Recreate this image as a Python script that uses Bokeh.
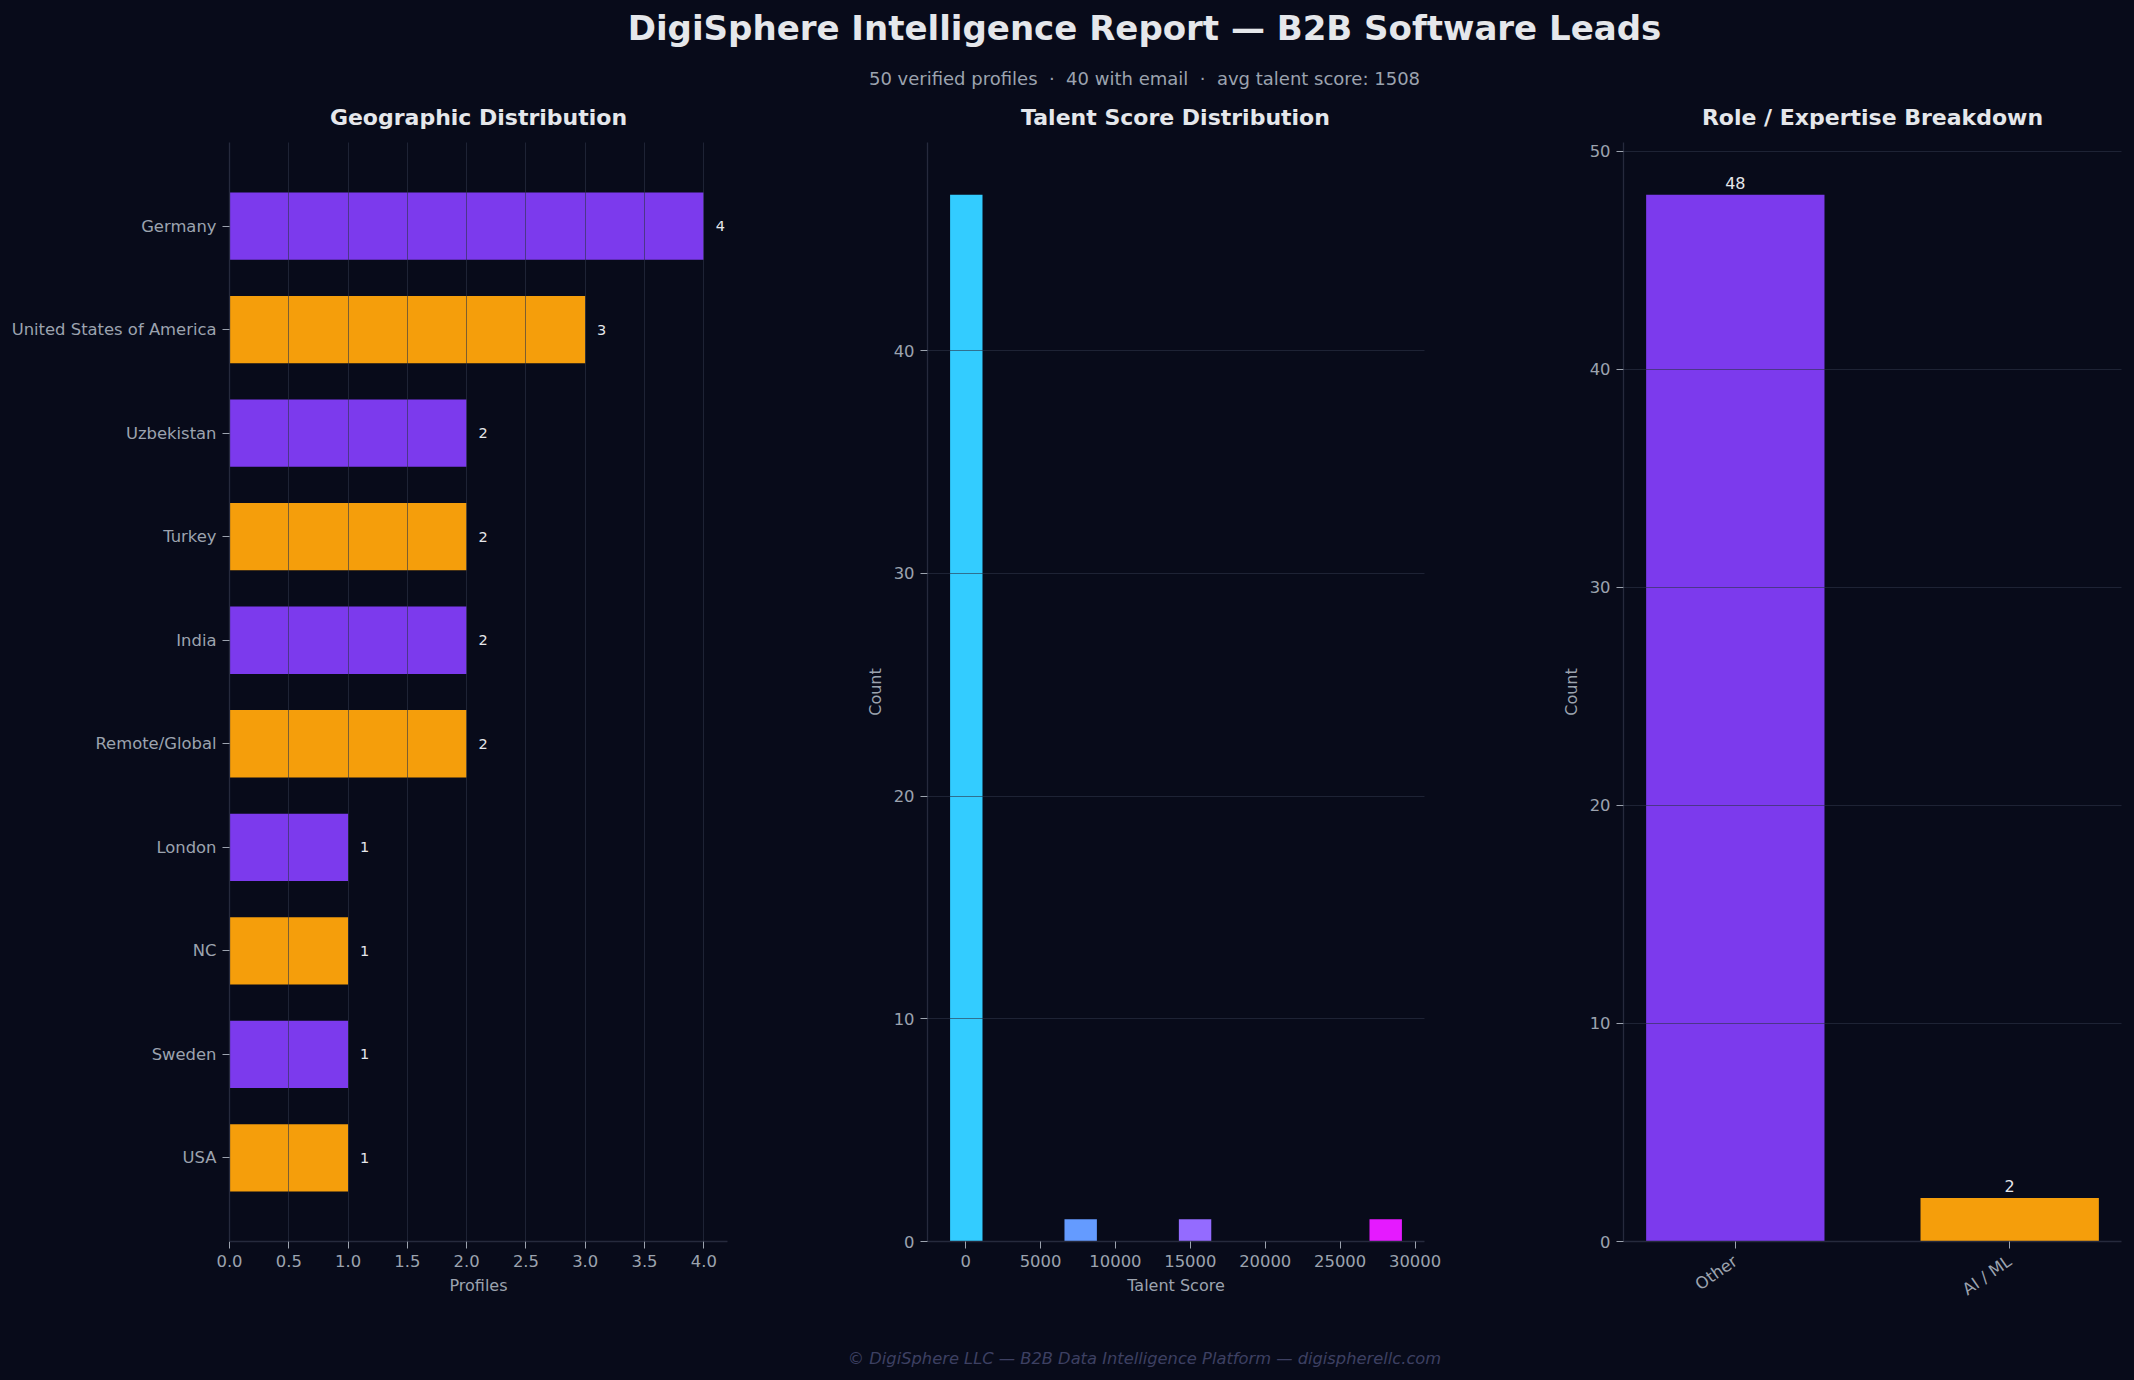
import numpy as np
from bokeh.plotting import figure
from bokeh.layouts import column, row
from bokeh.models import Range1d, FixedTicker, PrintfTickFormatter
from bokeh.core.properties import value
from bokeh.embed import file_html
from bokeh.resources import INLINE

# ---------------- data ----------------
title_text = "DigiSphere Intelligence Report — B2B Software Leads"
subtitle_text = "50 verified profiles \u00a0·\u00a0 40 with email \u00a0·\u00a0 avg talent score: 1508"
footer_text = "© DigiSphere LLC — B2B Data Intelligence Platform — digispherellc.com"
panel_titles = ["Geographic Distribution", "Talent Score Distribution", "Role / Expertise Breakdown"]

countries = ["Germany", "United States of America", "Uzbekistan", "Turkey", "India",
             "Remote/Global", "London", "NC", "Sweden", "USA"]
country_counts = [4, 3, 2, 2, 2, 2, 1, 1, 1, 1]

score_bin_starts = [46, 2591, 5136, 7681, 10226, 12771, 15316, 17861, 20406, 22951, 25496, 28041]
score_counts = [47, 0, 0, 1, 0, 0, 1, 0, 0, 0, 0, 1]

roles = ["Other", "AI / ML"]
role_counts = [48, 2]

x_ticks_profiles = [0, 0.5, 1.0, 1.5, 2.0, 2.5, 3.0, 3.5, 4.0]
x_ticks_score = [0, 5000, 10000, 15000, 20000, 25000, 30000]
y_ticks_score = [0, 10, 20, 30, 40]
y_ticks_roles = [0, 10, 20, 30, 40, 50]

# ---------------- style ----------------
BG = "#080b1a"
PURPLE = "#7c3aed"
ORANGE = "#f59e0b"
TICK = "#9ca3af"
SPINE = "#262a3d"
GRID = "#2d3348"
TEXT = "#e5e7eb"
FOOT = "#3d4062"
FONT = "DejaVu Sans"
FRAME_H = 1099
CX = 1144  # horizontal centre of the header/footer texts


def style(p):
    p.background_fill_color = None
    p.border_fill_color = None
    p.outline_line_color = None
    for ax in p.axis:
        ax.axis_line_color = SPINE
        ax.axis_line_width = 1.3
        ax.major_tick_line_color = TICK
        ax.major_tick_out = 7
        ax.major_tick_in = 0
        ax.minor_tick_line_color = None
        ax.major_label_text_color = TICK
        ax.major_label_text_font = FONT
        ax.major_label_text_font_size = "16.4px"
        ax.major_label_standoff = 6
        ax.axis_label_text_color = TICK
        ax.axis_label_text_font = FONT
        ax.axis_label_text_font_size = "16px"
        ax.axis_label_text_font_style = "normal"
        ax.axis_label_standoff = 6
    for g in p.grid:
        g.grid_line_color = GRID
        g.grid_line_alpha = 0.6
        g.level = "overlay"


# ---------------- panel 1: geography ----------------
n = len(countries)
idx = list(range(n))
bar_h = 0.65
pad1 = 0.05 * ((n - 1 + bar_h / 2) - (-bar_h / 2))
f1 = figure(frame_width=498, frame_height=FRAME_H,
            min_border_left=229, min_border_right=73, min_border_top=12, min_border_bottom=79,
            x_range=Range1d(0, max(country_counts) * 1.05),
            y_range=Range1d(n - 1 + bar_h / 2 + pad1, -bar_h / 2 - pad1),
            output_backend="svg", toolbar_location=None)
colors1 = [PURPLE if i % 2 == 0 else ORANGE for i in idx]
f1.hbar(y=idx, left=0, right=country_counts, height=bar_h, fill_color=colors1, line_color=None)
f1.text(x=[c + 0.1 for c in country_counts], y=idx, text=[str(c) for c in country_counts],
        text_font=value(FONT), text_font_size=value("14.5px"), text_color=TEXT,
        text_align="left", text_baseline="middle")
f1.xaxis.axis_label = "Profiles"
f1.xaxis.ticker = FixedTicker(ticks=x_ticks_profiles)
f1.xaxis.formatter = PrintfTickFormatter(format="%.1f")
f1.yaxis.ticker = FixedTicker(ticks=idx)
f1.yaxis.major_label_overrides = {i: c for i, c in zip(idx, countries)}
f1.xgrid.ticker = FixedTicker(ticks=x_ticks_profiles)
f1.ygrid.visible = False
style(f1)

# ---------------- panel 2: talent score histogram ----------------
bw = score_bin_starts[1] - score_bin_starts[0]
bar_w = 0.85 * bw
lo = score_bin_starts[0] - bar_w / 2
hi = score_bin_starts[-1] + bar_w / 2
m2 = 0.05 * (hi - lo)
nb = len(score_bin_starts)
cool = []
for k in range(nb):
    t = 0.2 + 0.7 * k / (nb - 1)
    cool.append("#%02x%02x%02x" % (int(round(t * 255)), int(round((1 - t) * 255)), 255))
f2 = figure(frame_width=497, frame_height=FRAME_H,
            min_border_left=127, min_border_right=76, min_border_top=12, min_border_bottom=79,
            x_range=Range1d(lo - m2, hi + m2), y_range=Range1d(0, max(score_counts) * 1.05),
            output_backend="svg", toolbar_location=None)
f2.vbar(x=score_bin_starts, top=score_counts, bottom=0, width=bar_w, fill_color=cool, line_color=None)
f2.xaxis.axis_label = "Talent Score"
f2.yaxis.axis_label = "Count"
f2.xaxis.ticker = FixedTicker(ticks=x_ticks_score)
f2.xaxis.formatter = PrintfTickFormatter(format="%d")
f2.yaxis.ticker = FixedTicker(ticks=y_ticks_score)
f2.ygrid.ticker = FixedTicker(ticks=y_ticks_score)
f2.xgrid.visible = False
style(f2)

# ---------------- panel 3: roles ----------------
ridx = list(range(len(roles)))
rw = 0.65
m3 = 0.05 * ((len(roles) - 1 + rw / 2) - (-rw / 2))
f3 = figure(frame_width=498, frame_height=FRAME_H,
            min_border_left=123, min_border_right=13, min_border_top=12, min_border_bottom=79,
            x_range=Range1d(-rw / 2 - m3, len(roles) - 1 + rw / 2 + m3),
            y_range=Range1d(0, max(role_counts) * 1.05),
            output_backend="svg", toolbar_location=None)
colors3 = [PURPLE if i % 2 == 0 else ORANGE for i in ridx]
f3.vbar(x=ridx, top=role_counts, bottom=0, width=rw, fill_color=colors3, line_color=None)
f3.text(x=ridx, y=[c + 0.25 for c in role_counts], text=[str(c) for c in role_counts],
        text_font=value(FONT), text_font_size=value("16px"), text_color=TEXT,
        text_align="center", text_baseline="bottom")
f3.yaxis.axis_label = "Count"
f3.xaxis.ticker = FixedTicker(ticks=ridx)
f3.xaxis.major_label_overrides = {i: r for i, r in zip(ridx, roles)}
f3.xaxis.major_label_orientation = np.deg2rad(35)
f3.yaxis.ticker = FixedTicker(ticks=y_ticks_roles)
f3.ygrid.ticker = FixedTicker(ticks=y_ticks_roles)
f3.xgrid.visible = False
style(f3)
f3.xaxis.major_label_standoff = 11


# ---------------- header / footer ----------------
def blank(h):
    p = figure(width=2134, height=h, x_range=Range1d(0, 2134), y_range=Range1d(h, 0),
               min_border=0, output_backend="svg", toolbar_location=None)
    p.axis.visible = False
    p.grid.visible = False
    p.outline_line_color = None
    p.background_fill_color = None
    p.border_fill_color = None
    return p


header = blank(130)
header.text(x=[CX], y=[27], text=[title_text], text_font=value(FONT),
            text_font_size=value("34px"), text_font_style="bold", text_color=TEXT,
            text_align="center", text_baseline="middle")
header.text(x=[CX], y=[78], text=[subtitle_text], text_font=value(FONT),
            text_font_size=value("18px"), text_color=TICK,
            text_align="center", text_baseline="middle")
header.text(x=[478, 1175, 1872], y=[117, 117, 117], text=panel_titles, text_font=value(FONT),
            text_font_size=value("22px"), text_font_style="bold", text_color=TEXT,
            text_align="center", text_baseline="middle")

footer = blank(60)
footer.text(x=[CX], y=[38], text=[footer_text], text_font=value(FONT),
            text_font_size=value("16.3px"), text_font_style="italic", text_color=FOOT,
            text_align="center", text_baseline="middle")

p = column(header, row(f1, f2, f3), footer)
html = file_html(p, INLINE)
html = html.replace("</head>",
                    "<style>html,body{margin:0;padding:0;background-color:%s;}</style></head>" % BG, 1)
open("out.html", "w").write(html)
